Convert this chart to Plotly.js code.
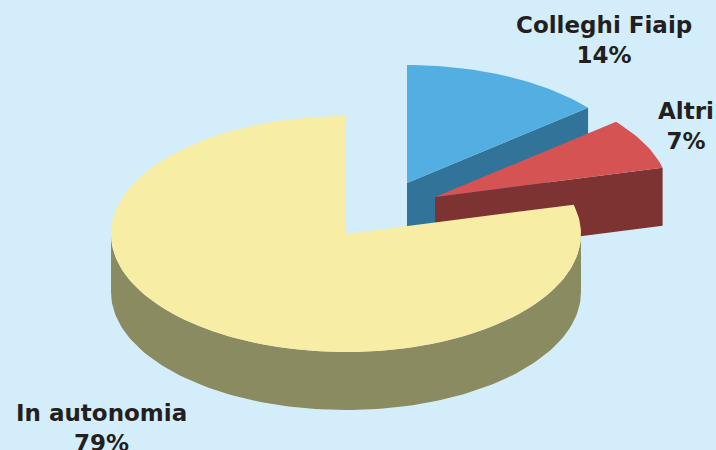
<!DOCTYPE html>
<html>
<head>
<meta charset="utf-8">
<script src="https://cdn.plot.ly/plotly-3.0.1.min.js"></script>
<style>
html,body{margin:0;padding:0;background:#d3eefa;}
#chart{width:716px;height:450px;}
</style>
</head>
<body>
<div id="chart"></div>
<script>
// ---- data ----
const categories = ['Colleghi Fiaip', 'Altri', 'In autonomia'];
const values = [14, 7, 79];

// ---- styling / geometry (not data) ----
const topColors  = ['#53aee1', '#d65353', '#f7eda5'];
const sideColors = ['#317399', '#7e3333', '#8b8b62'];
const explode = [[61, -51], [89, -37], [0, 0]];   // pixel offsets of exploded slices
const labelPos = [[604, 40], [686, 126], [101, 428]];
const CX = 346, CY = 234, RX = 235, RY = 118, DEPTH = 58;
const START = 90; // degrees, 12 o'clock, clockwise

const total = values.reduce((a, b) => a + b, 0);
const rad = d => d * Math.PI / 180;

function arc(cx, cy, a0, a1, dy) {
  const n = Math.max(2, Math.ceil(Math.abs(a1 - a0) / 1.5));
  const xs = [], ys = [];
  for (let i = 0; i <= n; i++) {
    const a = a0 + (a1 - a0) * i / n;
    xs.push(cx + RX * Math.cos(rad(a)));
    ys.push(cy - RY * Math.sin(rad(a)) + (dy || 0));
  }
  return [xs, ys];
}

function poly(xs, ys, color) {
  return {
    type: 'scatter', mode: 'lines', x: xs.concat([xs[0]]), y: ys.concat([ys[0]]),
    fill: 'toself', fillcolor: color, line: {width: 0, color: color},
    hoverinfo: 'skip', showlegend: false
  };
}

const traces = [];
let a = START;
values.forEach((v, i) => {
  const aStart = a, aEnd = a - v / total * 360;
  a = aEnd;
  const cx = CX + explode[i][0], cy = CY + explode[i][1];
  // cut face at clockwise end
  if (Math.cos(rad(aEnd)) > 1e-6) {
    const ex = cx + RX * Math.cos(rad(aEnd)), ey = cy - RY * Math.sin(rad(aEnd));
    traces.push(poly([cx, ex, ex, cx], [cy, ey, ey + DEPTH, cy + DEPTH], sideColors[i]));
  }
  // cut face at counter-clockwise start
  if (Math.cos(rad(aStart)) < -1e-6) {
    const sx = cx + RX * Math.cos(rad(aStart)), sy = cy - RY * Math.sin(rad(aStart));
    traces.push(poly([cx, sx, sx, cx], [cy, sy, sy + DEPTH, cy + DEPTH], sideColors[i]));
  }
  // outer curved side (front half only)
  [[-540, -360], [-180, 0], [180, 360]].forEach(([lo, hi]) => {
    const l = Math.max(lo, aEnd), h = Math.min(hi, aStart);
    if (h > l) {
      const [tx, ty] = arc(cx, cy, l, h, 0);
      const [bx, by] = arc(cx, cy, h, l, DEPTH);
      traces.push(poly(tx.concat(bx), ty.concat(by), sideColors[i]));
    }
  });
  // top face
  const [ax, ay] = arc(cx, cy, aStart, aEnd, 0);
  traces.push(poly([cx].concat(ax), [cy].concat(ay), topColors[i]));
});

const annotations = categories.map((c, i) => ({
  x: labelPos[i][0], y: labelPos[i][1], xref: 'x', yref: 'y',
  text: '<b>' + c + '</b><br><b>' + Math.round(values[i] / total * 100) + '%</b>',
  showarrow: false, xanchor: 'center', yanchor: 'middle', align: 'center',
  font: {family: 'DejaVu Sans', size: 23, color: '#231f20'}
}));

const layout = {
  width: 716, height: 450,
  margin: {l: 0, r: 0, t: 0, b: 0},
  paper_bgcolor: '#d3eefa', plot_bgcolor: '#d3eefa',
  xaxis: {range: [0, 716], visible: false, fixedrange: true},
  yaxis: {range: [450, 0], visible: false, fixedrange: true},
  showlegend: false,
  annotations: annotations
};

Plotly.newPlot('chart', traces, layout, {staticPlot: true, displayModeBar: false});
</script>
</body>
</html>
